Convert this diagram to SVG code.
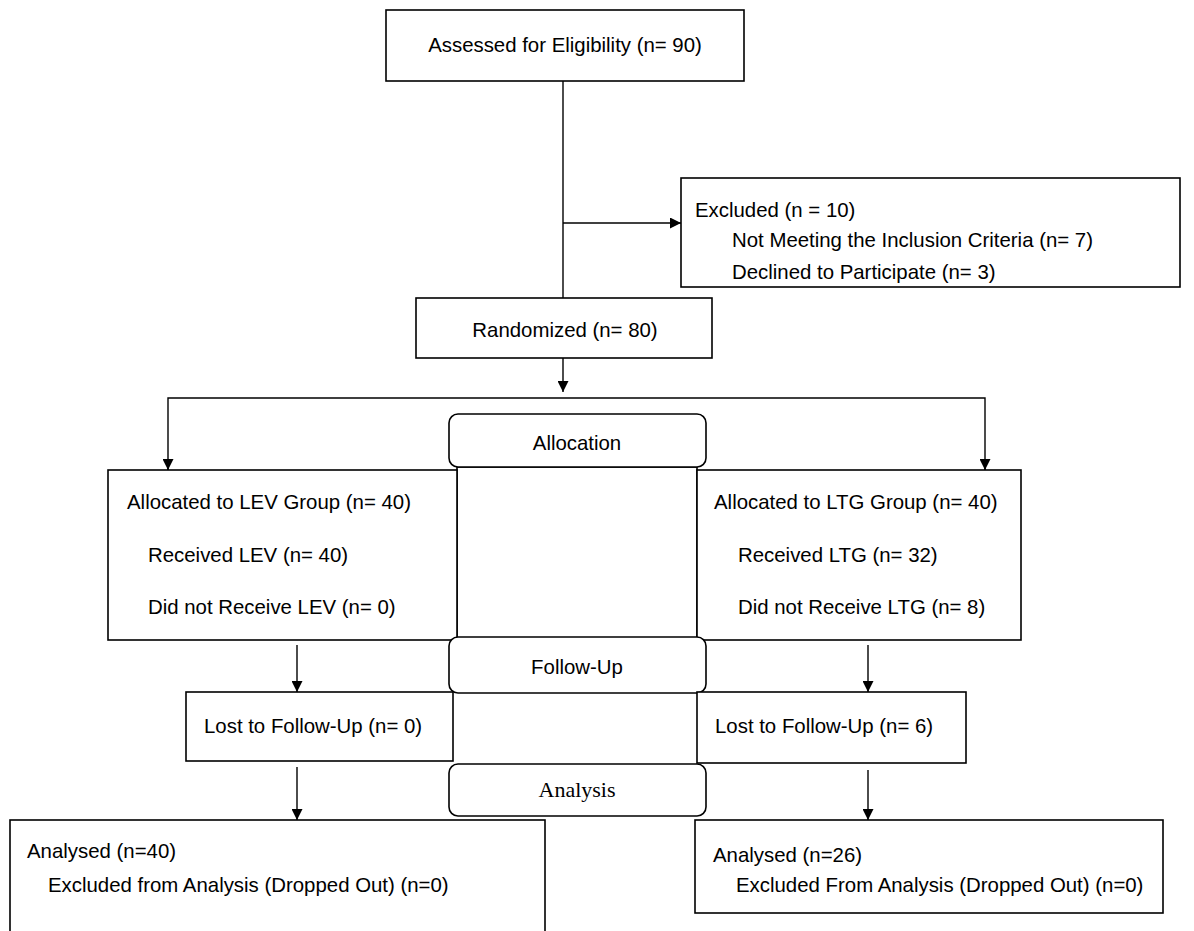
<svg xmlns="http://www.w3.org/2000/svg" width="1194" height="931" viewBox="0 0 1194 931">
<style>
.box{fill:#fff;stroke:#000;stroke-width:1.6}
.rbox{fill:#fff;stroke:#000;stroke-width:1.6}
.t{font-family:"Liberation Sans",Arial,sans-serif;font-size:20.4px;fill:#000}
.c{text-anchor:middle}
.serif{font-family:"Liberation Serif","Times New Roman",serif;font-size:22px;fill:#000;text-anchor:middle}
.ln{fill:none;stroke:#000;stroke-width:1.4}
</style>
<defs>
<marker id="ah" viewBox="0 0 10 10" refX="10" refY="5" markerWidth="11" markerHeight="11" markerUnits="userSpaceOnUse" orient="auto">
<path d="M0,0 L10,5 L0,10 z" fill="#000"/>
</marker>
</defs>
<rect width="1194" height="931" fill="#fff"/>
<g id="connectors">
<path class="ln" d="M563,81 V298"/>
<path class="ln" d="M563,223 H681" marker-end="url(#ah)"/>
<path class="ln" d="M563,358 V392" marker-end="url(#ah)"/>
<path class="ln" d="M168,470 V398 H985 V470" />
<path class="ln" d="M168,460 V470" marker-end="url(#ah)"/>
<path class="ln" d="M985,460 V470" marker-end="url(#ah)"/>
<path class="ln" d="M297,645 V692" marker-end="url(#ah)"/>
<path class="ln" d="M868,645 V692" marker-end="url(#ah)"/>
<path class="ln" d="M297,767 V820" marker-end="url(#ah)"/>
<path class="ln" d="M868,770 V820" marker-end="url(#ah)"/>
</g>
<g id="assessed">
<rect class="box" x="386" y="10" width="358" height="71"/>
<text class="t c" x="565" y="52">Assessed for Eligibility (n= 90)</text>
</g>
<g id="excluded">
<rect class="box" x="681" y="178" width="499" height="109"/>
<text class="t" x="695" y="217">Excluded (n = 10)</text>
<text class="t" x="732" y="247">Not Meeting the Inclusion Criteria (n= 7)</text>
<text class="t" x="732" y="279">Declined to Participate (n= 3)</text>
</g>
<g id="randomized">
<rect class="box" x="416" y="298" width="296" height="60"/>
<text class="t c" x="565" y="337">Randomized (n= 80)</text>
</g>
<g id="middle">
<rect class="box" x="457" y="467" width="240" height="173"/>
</g>
<g id="lev">
<rect class="box" x="108" y="470" width="349" height="170"/>
<text class="t" x="127" y="509">Allocated to LEV Group (n= 40)</text>
<text class="t" x="148" y="562">Received LEV (n= 40)</text>
<text class="t" x="148" y="614">Did not Receive LEV (n= 0)</text>
</g>
<g id="ltg">
<rect class="box" x="697" y="470" width="324" height="170"/>
<text class="t" x="714" y="509">Allocated to LTG Group (n= 40)</text>
<text class="t" x="738" y="562">Received LTG (n= 32)</text>
<text class="t" x="738" y="614">Did not Receive LTG (n= 8)</text>
</g>
<g id="allocation">
<rect class="rbox" x="449" y="414" width="257" height="53" rx="9"/>
<text class="t c" x="577" y="450">Allocation</text>
</g>
<g id="followup">
<rect class="rbox" x="449" y="637" width="257" height="56" rx="9"/>
<text class="t c" x="577" y="674">Follow-Up</text>
</g>
<g id="lost-lev">
<rect class="box" x="186" y="692" width="267" height="69"/>
<text class="t" x="204" y="733">Lost to Follow-Up (n= 0)</text>
</g>
<g id="lost-ltg">
<rect class="box" x="697" y="692" width="269" height="71"/>
<text class="t" x="715" y="733">Lost to Follow-Up (n= 6)</text>
</g>
<g id="analysis">
<rect class="rbox" x="449" y="764" width="257" height="52" rx="9"/>
<text class="serif" x="577" y="797">Analysis</text>
</g>
<g id="analysed-lev">
<rect class="box" x="10" y="820" width="535" height="130"/>
<text class="t" x="27" y="858">Analysed (n=40)</text>
<text class="t" x="48" y="892">Excluded from Analysis (Dropped Out) (n=0)</text>
</g>
<g id="analysed-ltg">
<rect class="box" x="695" y="820" width="468" height="93"/>
<text class="t" x="713" y="862">Analysed (n=26)</text>
<text class="t" x="736" y="892">Excluded From Analysis (Dropped Out) (n=0)</text>
</g>
</svg>
